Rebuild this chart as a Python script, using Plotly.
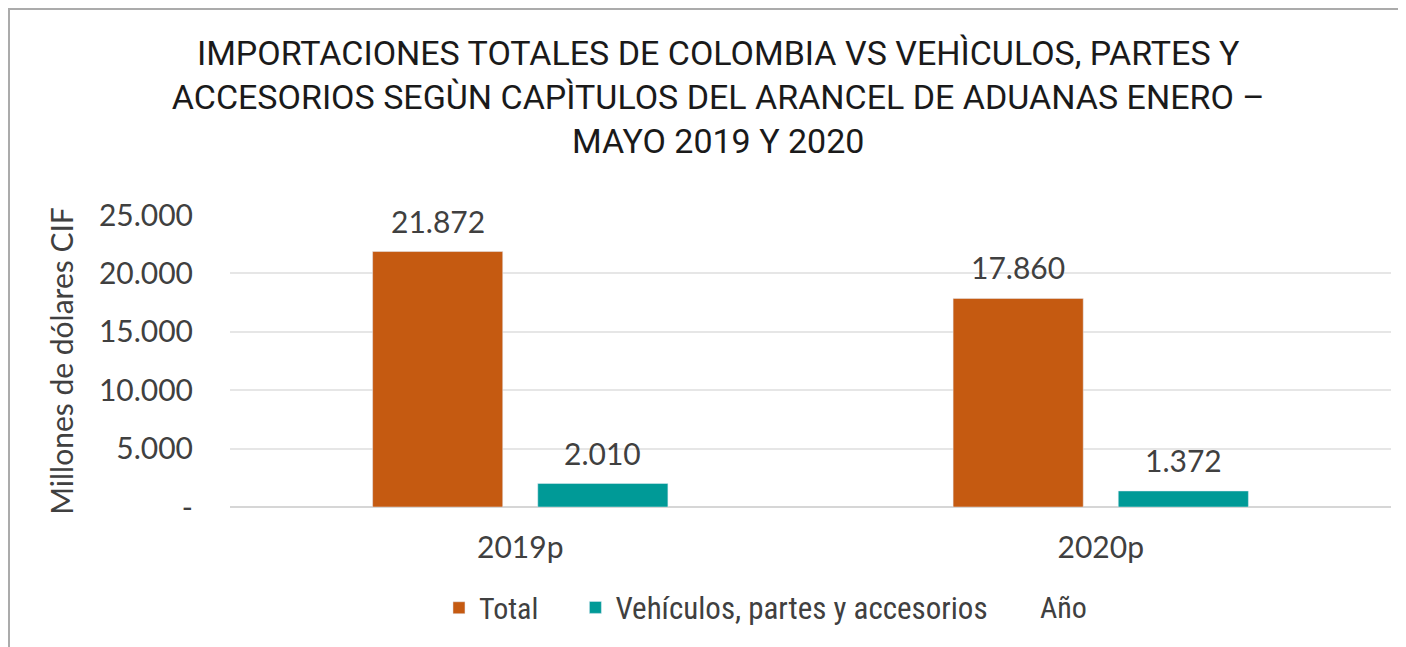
import plotly.graph_objects as go

categories = ["2019p", "2020p"]
total = [21872, 17860]
vehiculos = [2010, 1372]
series_names = ["Total", "Vehículos, partes y accesorios"]
y_tickvals = [0, 5000, 10000, 15000, 20000, 25000]
y_ticktext = ["-", "5.000", "10.000", "15.000", "20.000", "25.000"]

title_text = ("IMPORTACIONES TOTALES DE COLOMBIA VS VEHÌCULOS, PARTES Y<br>"
              "ACCESORIOS SEGÙN CAPÌTULOS DEL ARANCEL DE ADUANAS ENERO –<br>"
              "MAYO 2019 Y 2020")

NARROW = "Roboto Condensed, Liberation Sans Narrow, sans-serif"
TITLEF = "Roboto, sans-serif"
NUM = "Lato, sans-serif"
GREY = "#404040"
colors = ["#C55A11", "#009A97"]

W, H = 1398, 639
L, R, T, B = 222, 15, 207, 140
PW, PH = W - L - R, H - T - B

fig = go.Figure()
series = [total, vehiculos]
legends = ["legend", "legend2"]
for name, vals, col, lg in zip(series_names, series, colors, legends):
    fig.add_trace(go.Bar(x=categories, y=vals, name=name, marker=dict(color=col),
                         legend=lg))

# data labels above bars (offset within the group)
annotations = []
slot_shift = [-82.5, 82.5]
for vals, xs in zip(series, slot_shift):
    for c, v in zip(categories, vals):
        annotations.append(dict(
            x=c, y=v, xref="x", yref="y", text=f"{v:,.0f}".replace(",", "."),
            showarrow=False, xanchor="center", yanchor="bottom",
            xshift=xs, yshift=11,
            font=dict(family=NUM, size=30, color=GREY)))

annotations.append(dict(text="Año", x=0.696, xref="paper", y=-0.345, yref="paper",
                        xanchor="left", yanchor="middle", showarrow=False,
                        font=dict(family=NARROW, size=30, color=GREY)))

fig.update_layout(
    width=W, height=H,
    separators=",.",
    paper_bgcolor="white", plot_bgcolor="white",
    margin=dict(l=L, r=R, t=T, b=B, autoexpand=False),
    barmode="group", bargap=0.431, bargroupgap=0.212,
    title=dict(text=title_text, x=0.508, xanchor="center", xref="container",
               y=1 - 57 / H, yanchor="middle", yref="container",
               font=dict(family=TITLEF, size=34, color="#1a1a1a")),
    showlegend=True,
    legend=dict(orientation="h", x=0.180, xanchor="left", y=-0.345, yanchor="middle",
                font=dict(family=NARROW, size=30, color=GREY), bgcolor="rgba(0,0,0,0)"),
    legend2=dict(orientation="h", x=0.2975, xanchor="left", y=-0.345, yanchor="middle",
                 font=dict(family=NARROW, size=31, color=GREY), bgcolor="rgba(0,0,0,0)"),
    annotations=annotations,
    shapes=[dict(type="rect", xref="paper", yref="paper",
                 x0=(-L + 1) / PW, x1=1.2, y0=-1.0, y1=(PH + T - 1) / PH,
                 line=dict(color="#ABABAB", width=2), fillcolor="rgba(0,0,0,0)",
                 layer="below")],
)

fig.update_yaxes(range=[0, 25000], tickvals=y_tickvals, ticktext=y_ticktext,
                 showgrid=True, gridcolor="#E6E6E6", gridwidth=1.5,
                 zeroline=True, zerolinecolor="#D6D6D6", zerolinewidth=2,
                 showline=False, ticks="", ticklabelstandoff=36,
                 tickfont=dict(family=NUM, size=30, color=GREY),
                 title=dict(text="Millones de dólares CIF", standoff=16,
                            font=dict(family=NUM, size=30, color=GREY)))
fig.update_xaxes(showgrid=False, showline=False, ticks="", ticklabelstandoff=20,
                 tickfont=dict(family=NUM, size=30, color=GREY))

fig.write_html("out.html")
